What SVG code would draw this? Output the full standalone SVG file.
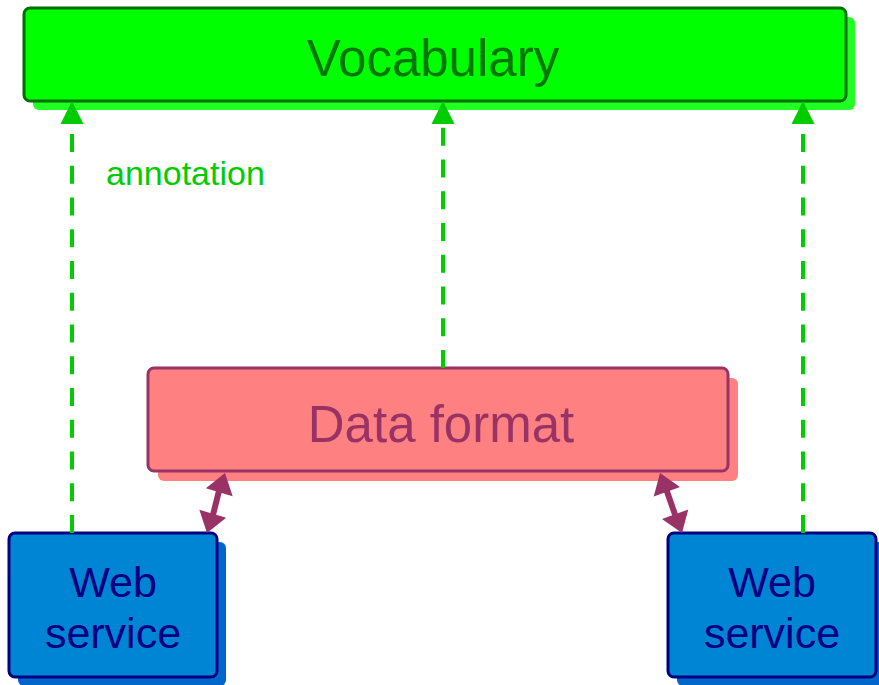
<svg xmlns="http://www.w3.org/2000/svg" width="879" height="685" viewBox="0 0 879 685">
  <defs>
    <style>
      .label { font-family: "Liberation Sans", Arial, sans-serif; text-anchor: middle; }
      .annot { stroke: #00cc00; stroke-width: 4; fill: none; stroke-dasharray: 18 13.75; }
      .annot-head { fill: #00cc00; }
      .link { stroke: #993366; stroke-width: 6; fill: none; }
      .link-head { fill: #993366; }
    </style>
  </defs>
  <rect width="879" height="685" fill="#ffffff"/>

  <!-- Vocabulary -->
  <g id="vocabulary">
    <rect x="33" y="17" width="822" height="93" rx="6" fill="#22ff22"/>
    <rect x="24" y="8" width="822" height="93" rx="6" fill="#00ff00" stroke="#007000" stroke-width="3"/>
    <text class="label" x="433" y="76" font-size="51" fill="#007700">Vocabulary</text>
  </g>

  <!-- Data format -->
  <g id="data-format">
    <rect x="158" y="378" width="580" height="103" rx="6" fill="#ff8080"/>
    <rect x="148" y="368" width="580" height="103" rx="6" fill="#ff8080" stroke="#993366" stroke-width="3"/>
    <text class="label" x="441" y="442" font-size="51" fill="#993366">Data format</text>
  </g>

  <!-- Web service (left) -->
  <g id="web-service-left">
    <rect x="18" y="542" width="208" height="144" rx="6" fill="#0066cc"/>
    <rect x="9" y="533" width="208" height="144" rx="6" fill="#0084d4" stroke="#000080" stroke-width="3"/>
    <text class="label" x="113" y="597" font-size="43" fill="#000080">Web</text>
    <text class="label" x="113" y="648" font-size="43" fill="#000080">service</text>
  </g>

  <!-- Web service (right) -->
  <g id="web-service-right">
    <rect x="677" y="542" width="208" height="144" rx="6" fill="#0066cc"/>
    <rect x="668" y="533" width="208" height="144" rx="6" fill="#0084d4" stroke="#000080" stroke-width="3"/>
    <text class="label" x="772" y="597" font-size="43" fill="#000080">Web</text>
    <text class="label" x="772" y="648" font-size="43" fill="#000080">service</text>
  </g>

  <!-- connectors -->
  <g id="connectors">
    <!-- dashed annotation links up to Vocabulary -->
    <path class="annot" d="M72,533 L72,122"/>
    <polygon class="annot-head" points="72,101 83.5,124 60.5,124"/>
    <path class="annot" d="M443,368 L443,122"/>
    <polygon class="annot-head" points="443,101 454.5,124 431.5,124"/>
    <path class="annot" d="M803,533 L803,122"/>
    <polygon class="annot-head" points="803,101 814.5,124 791.5,124"/>
    <!-- two-way links between services and Data format -->
    <path class="link" d="M219.25,490 L212.75,516"/>
    <polygon class="link-head" points="225,473 232.66,496.19 205.84,488.13"/>
    <polygon class="link-head" points="207,533 226.16,517.87 199.34,509.81"/>
    <path class="link" d="M666.5,490 L675.5,516"/>
    <polygon class="link-head" points="660,473 680.03,486.96 653.73,496.6"/>
    <polygon class="link-head" points="682,533 688.27,509.4 661.97,519.04"/>
    <text class="label" x="106" y="185" font-size="34" fill="#00cc00" style="text-anchor:start">annotation</text>
  </g>
</svg>
